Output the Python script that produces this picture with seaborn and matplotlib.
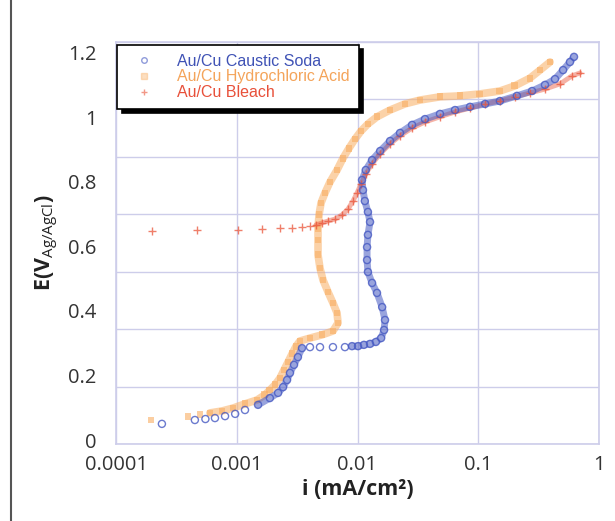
import numpy as np
import pandas as pd
import matplotlib
matplotlib.use("Agg")
import matplotlib.pyplot as plt
from matplotlib.patches import Rectangle
from matplotlib.lines import Line2D
import seaborn as sns

# ---------------- data ----------------
soda_i = [2.40e-4, 4.5e-4, 5.5e-4, 6.6e-4, 8.0e-4, 9.7e-4, 1.17e-3, 1.50e-3, 1.88e-3, 2.2e-3,
          2.42e-3, 2.61e-3, 2.76e-3, 2.98e-3, 3.21e-3, 3.47e-3, 4.04e-3, 4.89e-3, 6.26e-3, 7.87e-3,
          9.0e-3, 1.01e-2, 1.13e-2, 1.27e-2, 1.42e-2, 1.57e-2, 1.66e-2, 1.69e-2, 1.60e-2, 1.45e-2,
          1.32e-2, 1.22e-2, 1.20e-2, 1.20e-2, 1.22e-2, 1.27e-2, 1.22e-2, 1.15e-2, 1.11e-2, 1.09e-2,
          1.17e-2, 1.32e-2, 1.54e-2, 1.86e-2, 2.25e-2, 2.83e-2, 3.62e-2, 4.82e-2, 6.42e-2, 8.55e-2,
          0.114, 0.151, 0.209, 0.279, 0.357, 0.432, 0.504, 0.575, 0.621]
soda_E = [0.050, 0.062, 0.065, 0.068, 0.074, 0.081, 0.093, 0.109, 0.130, 0.146,
          0.164, 0.186, 0.208, 0.233, 0.257, 0.285, 0.288, 0.288, 0.288, 0.288,
          0.291, 0.291, 0.295, 0.298, 0.304, 0.316, 0.341, 0.372, 0.412, 0.456,
          0.487, 0.521, 0.558, 0.598, 0.636, 0.676, 0.707, 0.741, 0.775, 0.806,
          0.837, 0.868, 0.896, 0.927, 0.952, 0.977, 0.995, 1.011, 1.023, 1.033,
          1.042, 1.051, 1.067, 1.082, 1.101, 1.119, 1.147, 1.172, 1.188]

hcl_i = [1.95e-4, 3.94e-4, 4.96e-4, 6.0e-4, 7.55e-4, 9.3e-4, 1.17e-3, 1.47e-3, 1.71e-3, 1.88e-3,
         2.07e-3, 2.28e-3, 2.46e-3, 2.66e-3, 2.87e-3, 3.10e-3, 3.34e-3, 4.04e-3, 5.08e-3, 6.26e-3,
         6.90e-3, 6.77e-3, 6.26e-3, 5.70e-3, 5.18e-3, 4.89e-3, 4.71e-3, 4.71e-3, 4.71e-3, 4.80e-3,
         4.99e-3, 5.38e-3, 5.92e-3, 6.77e-3, 7.59e-3, 8.51e-3, 9.53e-3, 1.07e-2, 1.22e-2, 1.45e-2,
         1.86e-2, 2.47e-2, 3.29e-2, 4.82e-2, 7.06e-2, 0.103, 0.151, 0.201, 0.268, 0.325, 0.393]
hcl_E = [0.062, 0.074, 0.078, 0.084, 0.090, 0.099, 0.112, 0.124, 0.140, 0.155,
         0.171, 0.192, 0.217, 0.242, 0.267, 0.291, 0.307, 0.316, 0.326, 0.338,
         0.363, 0.394, 0.425, 0.459, 0.496, 0.533, 0.574, 0.620, 0.657, 0.698,
         0.735, 0.766, 0.800, 0.837, 0.874, 0.905, 0.933, 0.958, 0.980, 1.002,
         1.023, 1.042, 1.054, 1.064, 1.067, 1.073, 1.082, 1.098, 1.122, 1.147, 1.172]

bleach_i = [1.99e-4, 4.69e-4, 1.02e-3, 1.62e-3, 2.28e-3, 2.87e-3, 3.47e-3, 4.04e-3, 4.53e-3, 5.08e-3,
            5.70e-3, 6.51e-3, 7.45e-3, 8.34e-3, 9.18e-3, 9.91e-3, 1.07e-2, 1.17e-2, 1.32e-2, 1.54e-2,
            1.86e-2, 2.25e-2, 2.83e-2, 3.62e-2, 4.82e-2, 6.42e-2, 8.55e-2, 0.114, 0.151, 0.201,
            0.268, 0.357, 0.475, 0.597, 0.696]
bleach_E = [0.648, 0.651, 0.651, 0.654, 0.657, 0.657, 0.660, 0.664, 0.667, 0.673,
            0.679, 0.685, 0.698, 0.716, 0.741, 0.766, 0.794, 0.825, 0.856, 0.887,
            0.918, 0.943, 0.967, 0.986, 1.002, 1.017, 1.029, 1.042, 1.051, 1.064,
            1.076, 1.088, 1.104, 1.129, 1.138]

series_names = ["Au/Cu Caustic Soda", "Au/Cu Hydrochloric Acid", "Au/Cu Bleach"]
x_ticks = [0.0001, 0.001, 0.01, 0.1, 1]
x_ticklabels = ["0.0001", "0.001", "0.01", "0.1", "1"]
y_ticks = [0, 0.2, 0.4, 0.6, 0.8, 1.0, 1.2]
y_ticklabels = ["0", "0.2", "0.4", "0.6", "0.8", "1", "1.2"]

# ---------------- style ----------------
sns.set_theme(style="white")
plt.rcParams["font.family"] = ["Open Sans", "DejaVu Sans"]
plt.rcParams["mathtext.fontset"] = "custom"
plt.rcParams["mathtext.rm"] = "Open Sans"
plt.rcParams["mathtext.it"] = "Open Sans"

c_blue = "#4659c2"
c_orange = "#f9ae62"
c_red = "#ea5438"
grid_c = "#cdcdea"

fig = plt.figure(figsize=(6.15, 5.21), dpi=100)
ax = fig.add_axes([116 / 615, 1 - 444 / 521, 483 / 615, 402 / 521])

df_soda = pd.DataFrame({"i": soda_i, "E": soda_E})
df_hcl = pd.DataFrame({"i": hcl_i, "E": hcl_E})
df_bleach = pd.DataFrame({"i": bleach_i, "E": bleach_E})

# where the measured points crowd into a continuous band (index ranges into the series)
band_kw = dict(sort=False, estimator=None, legend=False, solid_capstyle="round")
sns.lineplot(data=df_hcl.iloc[3:], x="i", y="E", ax=ax, color=c_orange, lw=5.5,
             alpha=0.55, zorder=2, **band_kw)
sns.lineplot(data=df_bleach.iloc[8:], x="i", y="E", ax=ax, color=c_red, lw=3.5,
             alpha=0.45, zorder=3, **band_kw)
for seg in (slice(7, 16), slice(20, None)):
    sns.lineplot(data=df_soda.iloc[seg], x="i", y="E", ax=ax, color=c_blue, lw=5,
                 alpha=0.55, zorder=4, **band_kw)

sns.scatterplot(data=df_hcl, x="i", y="E", ax=ax, marker="s", s=24, color=c_orange,
                alpha=0.6, edgecolor="none", zorder=3)
sns.scatterplot(data=df_bleach, x="i", y="E", ax=ax, marker="+", s=34, color=c_red,
                alpha=0.75, linewidth=1.0, zorder=4)
sns.scatterplot(data=df_soda, x="i", y="E", ax=ax, marker="o", s=26, facecolor="none",
                edgecolor=c_blue, linewidth=1.0, alpha=0.8, zorder=5)

ax.set_xscale("log")
ax.set_xlim(1e-4, 1)
ylo, yhi = -0.0124, 1.234
ax.set_ylim(ylo, yhi)

ax.set_xticks(x_ticks)
ax.set_xticklabels(x_ticklabels)
ax.xaxis.set_minor_locator(matplotlib.ticker.NullLocator())
ax.set_yticks(y_ticks)
ax.set_yticklabels(y_ticklabels)
ax.set_yticks(np.linspace(ylo, yhi, 8), minor=True)

ax.grid(False)
ax.grid(True, axis="x", which="major", color=grid_c, lw=1.0)
ax.grid(True, axis="y", which="minor", color=grid_c, lw=1.0)
ax.tick_params(axis="both", which="both", length=0, labelsize=14.5, labelcolor="#333333")
ax.tick_params(axis="x", pad=8)
ax.tick_params(axis="y", pad=14)
for sp in ax.spines.values():
    sp.set_color(grid_c)
    sp.set_linewidth(1.2)

ax.set_xlabel("i (mA/cm²)", fontsize=15.5, fontweight="bold", color="#222222", labelpad=3)
ax.set_ylabel(r"E(V$_{\mathrm{Ag/AgCl}}$)", fontsize=15.5, fontweight="bold", color="#222222",
              labelpad=5)

handles = [
    Line2D([], [], ls="none", marker="o", markerfacecolor="none", markeredgecolor=c_blue,
           markersize=4, alpha=0.6),
    Line2D([], [], ls="none", marker="s", color=c_orange, markersize=4, alpha=0.4),
    Line2D([], [], ls="none", marker="+", color=c_red, markersize=5, alpha=0.6),
]
leg = ax.legend(handles, series_names, loc="upper left", bbox_to_anchor=(0.003, 0.993),
                frameon=True, fancybox=False, edgecolor="black", framealpha=1,
                shadow={"color": "black", "alpha": 1, "ox": 3, "oy": -3},
                prop={"family": "Liberation Sans", "size": 11.5},
                labelcolor=["#3f52b5", "#f4a45a", "#e8503a"],
                handletextpad=1.0, borderpad=0.55, labelspacing=0.05,
                handlelength=2.2, borderaxespad=0)
leg.get_frame().set_linewidth(1.2)
leg.set_zorder(10)

# outer frame of the figure panel
fig.patches.append(Rectangle((11 / 615, -0.2), 1.2, 1.2 + (1 - 16 / 521),
                             transform=fig.transFigure, fill=False, edgecolor="#555555",
                             linewidth=1.5, clip_on=False))

fig.savefig("out.png", dpi=100)
